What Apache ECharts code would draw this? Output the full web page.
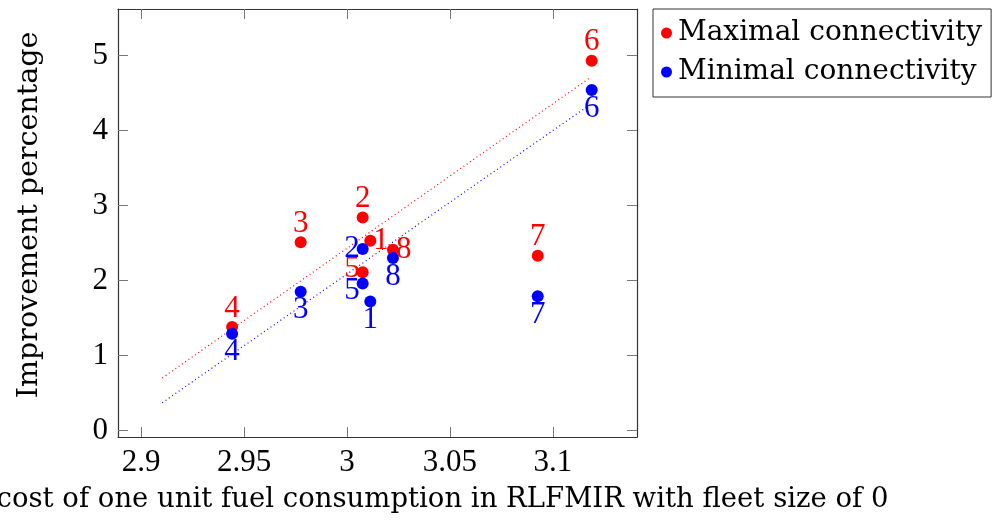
<!DOCTYPE html>
<html>
<head>
<meta charset="utf-8">
<script src="https://cdn.jsdelivr.net/npm/echarts@6/dist/echarts.min.js"></script>
<style>
  html, body { margin: 0; padding: 0; background: #fff; }
  #chart { width: 994px; height: 523px; }
</style>
</head>
<body>
<div id="chart"></div>
<script>
// tick values
const xTicks = [2.9, 2.95, 3, 3.05, 3.1];
const yTicks = [0, 1, 2, 3, 4, 5];

// instance labels and values
const pointNames = ["1", "2", "3", "4", "5", "6", "7", "8"];
const fuelCost = [3.0113, 3.0076, 2.9775, 2.9442, 3.0076, 3.1188, 3.0926, 3.0223];
const maxImprove = [2.53, 2.84, 2.51, 1.38, 2.11, 4.93, 2.33, 2.41];
const minImprove = [1.72, 2.42, 1.85, 1.29, 1.96, 4.54, 1.79, 2.30];

// dotted trend lines (end points)
const fitX = [2.9103, 3.1183];
const maxFit = [0.70, 4.71];
const minFit = [0.37, 4.35];

// where each number sits next to its dot
const maxLabelPos = ["right", "top", "top", "top", "left", "top", "top", "right"];
const minLabelPos = ["bottom", "left", "bottom", "bottom", "left", "bottom", "bottom", "bottom"];
// small nudges (px) so crowded numbers sit like in the original
const maxLabelShift = [0, 0, 0, 0, -3, 0, 0, 0];
const minLabelShift = [0, 0, 0, 0, 7, 0, 0, 0];

const RED = "#ff0000";
const BLUE = "#0000ff";
const TEXT_FONT = "DejaVu Serif";
const NUM_FONT = "Liberation Serif";

function points(ys, positions, shifts) {
  return ys.map((y, i) => ({
    name: pointNames[i],
    value: [fuelCost[i], y],
    label: { position: positions[i], offset: [0, shifts[i]] }
  }));
}

function fitLine(ys) {
  return fitX.map((x, i) => [x, ys[i]]);
}

const chart = echarts.init(document.getElementById("chart"));

const axisLine = { show: true, onZero: false, lineStyle: { color: "#333", width: 1.2 } };
const tickStyle = { color: "#777", width: 1 };

const option = {
  animation: false,
  grid: { left: 118, right: 357, top: 9, bottom: 86, containLabel: false, outerBoundsMode: "none" },
  legend: {
    data: ["Maximal connectivity", "Minimal connectivity"],
    orient: "vertical",
    left: 653,
    top: 9,
    padding: [7, 9, 8, 8],
    itemGap: 5,
    itemWidth: 11,
    itemHeight: 11,
    icon: "circle",
    borderColor: "#333",
    borderWidth: 1,
    textStyle: {
      fontFamily: TEXT_FONT,
      fontSize: 28,
      lineHeight: 34,
      color: "#000",
      padding: [0, 0, 0, 1]
    }
  },
  xAxis: [
    {
      type: "value",
      min: 2.8888,
      max: 3.1408,
      position: "bottom",
      name: "cost of one unit fuel consumption in RLFMIR with fleet size of 0",
      nameLocation: "middle",
      nameGap: 49,
      nameTextStyle: {
        fontFamily: TEXT_FONT,
        fontSize: 27.5,
        color: "#000",
        padding: [0, 0, 0, 130]
      },
      axisLine: axisLine,
      splitLine: { show: false },
      axisTick: { inside: true, length: 10, lineStyle: tickStyle, customValues: xTicks },
      axisLabel: {
        margin: 10,
        fontFamily: NUM_FONT,
        fontSize: 31,
        color: "#000",
        customValues: xTicks,
        formatter: v => String(+v.toFixed(2))
      }
    },
    {
      type: "value",
      min: 2.8888,
      max: 3.1408,
      position: "top",
      axisLine: axisLine,
      splitLine: { show: false },
      axisTick: { inside: true, length: 10, lineStyle: tickStyle, customValues: xTicks },
      axisLabel: { show: false }
    }
  ],
  yAxis: [
    {
      type: "value",
      min: -0.087,
      max: 5.62,
      position: "left",
      name: "Improvement percentage",
      nameLocation: "middle",
      nameGap: 74,
      nameTextStyle: {
        fontFamily: TEXT_FONT,
        fontSize: 28.5,
        color: "#000",
        padding: [0, 0, 0, 16]
      },
      axisLine: axisLine,
      splitLine: { show: false },
      axisTick: { inside: true, length: 10, lineStyle: tickStyle, customValues: yTicks },
      axisLabel: {
        margin: 10,
        fontFamily: NUM_FONT,
        fontSize: 31,
        color: "#000",
        customValues: yTicks
      }
    },
    {
      type: "value",
      min: -0.087,
      max: 5.62,
      position: "right",
      axisLine: axisLine,
      splitLine: { show: false },
      axisTick: { inside: true, length: 10, lineStyle: tickStyle, customValues: yTicks },
      axisLabel: { show: false }
    }
  ],
  series: [
    {
      name: "maxFit",
      type: "line",
      data: fitLine(maxFit),
      symbol: "none",
      silent: true,
      z: 1,
      lineStyle: { color: RED, width: 1.2, type: [1, 3] }
    },
    {
      name: "minFit",
      type: "line",
      data: fitLine(minFit),
      symbol: "none",
      silent: true,
      z: 1,
      lineStyle: { color: BLUE, width: 1.2, type: [1, 3] }
    },
    {
      name: "Maximal connectivity",
      type: "scatter",
      symbolSize: 12,
      itemStyle: { color: RED, opacity: 1 },
      z: 3,
      label: {
        show: true,
        formatter: "{b}",
        distance: -3,
        fontFamily: NUM_FONT,
        fontSize: 31,
        color: RED
      },
      data: points(maxImprove, maxLabelPos, maxLabelShift)
    },
    {
      name: "Minimal connectivity",
      type: "scatter",
      symbolSize: 12,
      itemStyle: { color: BLUE, opacity: 1 },
      z: 3,
      label: {
        show: true,
        formatter: "{b}",
        distance: -3,
        fontFamily: NUM_FONT,
        fontSize: 31,
        color: BLUE
      },
      data: points(minImprove, minLabelPos, minLabelShift)
    }
  ]
};

chart.setOption(option);
</script>
</body>
</html>
